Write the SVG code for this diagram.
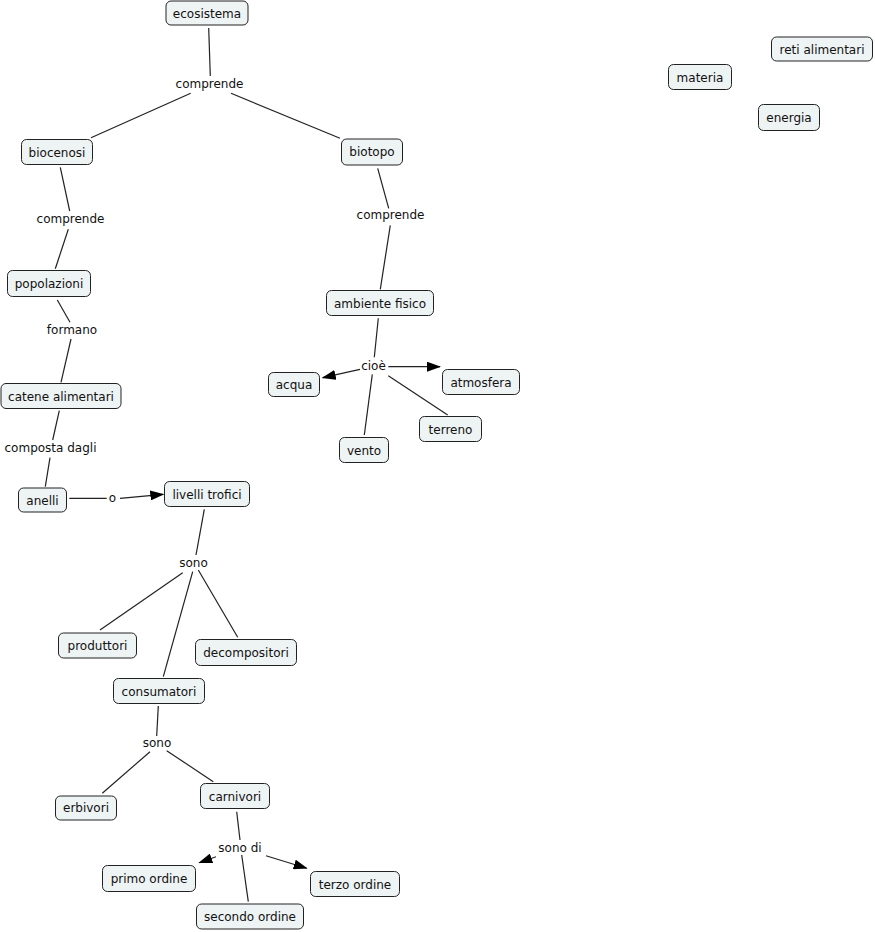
<svg xmlns="http://www.w3.org/2000/svg" width="875" height="932" viewBox="0 0 875 932">
<defs>
<style>
.n rect{fill:#eef3f4;stroke:#222;stroke-width:1;}
text{font-family:"DejaVu Sans","Liberation Sans",sans-serif;font-size:12px;fill:#111;text-anchor:middle;}
.c line{stroke:#222;stroke-width:1.2;}
</style>
<marker id="ar" markerWidth="14" markerHeight="10" refX="13" refY="5" orient="auto" markerUnits="userSpaceOnUse">
<path d="M0,0 L14,5 L0,10 z" fill="#000"/>
</marker>
</defs>
<rect width="875" height="932" fill="#fff"/>
<g class="c" id="connectors">
<line x1="208.7" y1="28" x2="210.3" y2="76"/>
<line x1="190.7" y1="93.3" x2="91" y2="137.7"/>
<line x1="231" y1="93.3" x2="340" y2="138.3"/>
<line x1="60.3" y1="167.3" x2="69.7" y2="211"/>
<line x1="68.3" y1="229.3" x2="55.3" y2="268.7"/>
<line x1="377.7" y1="168.3" x2="388.7" y2="208.3"/>
<line x1="390.3" y1="225.3" x2="380.3" y2="289.3"/>
<line x1="57.3" y1="300" x2="70" y2="322.3"/>
<line x1="71" y1="339" x2="61" y2="382.3"/>
<line x1="59.3" y1="410.7" x2="52.7" y2="440"/>
<line x1="50" y1="457.7" x2="45.3" y2="486.7"/>
<line x1="69.3" y1="498.3" x2="106.7" y2="498.3"/>
<line x1="120" y1="498.3" x2="163.3" y2="494.3" marker-end="url(#ar)"/>
<line x1="378.3" y1="318.3" x2="374.3" y2="357.3"/>
<line x1="360" y1="369.3" x2="322.7" y2="377.7" marker-end="url(#ar)"/>
<line x1="388.3" y1="366.7" x2="440" y2="366.7" marker-end="url(#ar)"/>
<line x1="372.3" y1="374.3" x2="364.3" y2="435"/>
<line x1="388.3" y1="375.7" x2="447.7" y2="415"/>
<line x1="204.3" y1="509.3" x2="196" y2="555"/>
<line x1="182.7" y1="572.7" x2="100" y2="630"/>
<line x1="192.7" y1="571.7" x2="163.3" y2="676.7"/>
<line x1="198.3" y1="570" x2="237.7" y2="637.3"/>
<line x1="158.3" y1="706" x2="156.7" y2="736"/>
<line x1="150" y1="751.7" x2="102.3" y2="793.3"/>
<line x1="166.7" y1="750.7" x2="213.3" y2="781.7"/>
<line x1="236.7" y1="811.7" x2="240" y2="840"/>
<line x1="216" y1="856.7" x2="199.3" y2="862.7" marker-end="url(#ar)"/>
<line x1="266" y1="855.7" x2="306.7" y2="868.3" marker-end="url(#ar)"/>
<line x1="241.7" y1="855" x2="248.3" y2="901.7"/>
</g>
<g id="link-labels">
<text x="209.5" y="87.5">comprende</text>
<text x="70.5" y="223">comprende</text>
<text x="390.5" y="219">comprende</text>
<text x="72" y="334">formano</text>
<text x="50.5" y="451.5">composta dagli</text>
<text x="112.5" y="502">o</text>
<text x="373.5" y="370">cioè</text>
<text x="193.5" y="567">sono</text>
<text x="157" y="747">sono</text>
<text x="240" y="852">sono di</text>
</g>
<g class="n" id="ecosistema"><rect x="166" y="1" width="82" height="24" rx="5"/><text x="207" y="17.5">ecosistema</text></g>
<g class="n" id="biocenosi"><rect x="21.5" y="139.5" width="71" height="25" rx="5"/><text x="57" y="156.5">biocenosi</text></g>
<g class="n" id="biotopo"><rect x="341.5" y="139" width="61" height="26" rx="5"/><text x="372" y="156">biotopo</text></g>
<g class="n" id="popolazioni"><rect x="7.5" y="270.5" width="83" height="26" rx="5"/><text x="49" y="288">popolazioni</text></g>
<g class="n" id="ambiente-fisico"><rect x="326.5" y="290.5" width="107" height="25" rx="5"/><text x="380" y="307.5">ambiente fisico</text></g>
<g class="n" id="catene-alimentari"><rect x="1" y="383.5" width="120" height="25" rx="5"/><text x="61" y="400.5">catene alimentari</text></g>
<g class="n" id="acqua"><rect x="268.5" y="372.5" width="51" height="24" rx="5"/><text x="294" y="388.5">acqua</text></g>
<g class="n" id="atmosfera"><rect x="442.5" y="369.5" width="77" height="25" rx="5"/><text x="481" y="386.5">atmosfera</text></g>
<g class="n" id="terreno"><rect x="419.5" y="416.5" width="62" height="25" rx="5"/><text x="450.5" y="433.5">terreno</text></g>
<g class="n" id="vento"><rect x="339.5" y="437.5" width="49" height="25" rx="5"/><text x="364" y="454.5">vento</text></g>
<g class="n" id="anelli"><rect x="18.5" y="488" width="48" height="24" rx="5"/><text x="42.5" y="504.5">anelli</text></g>
<g class="n" id="livelli-trofici"><rect x="164.5" y="481.5" width="85" height="25" rx="5"/><text x="207" y="498.5">livelli trofici</text></g>
<g class="n" id="produttori"><rect x="58.5" y="633" width="78" height="25" rx="5"/><text x="97.5" y="650">produttori</text></g>
<g class="n" id="decompositori"><rect x="195.5" y="639.5" width="101" height="26" rx="5"/><text x="246" y="657">decompositori</text></g>
<g class="n" id="consumatori"><rect x="113.5" y="678.5" width="91" height="25" rx="5"/><text x="159" y="695.5">consumatori</text></g>
<g class="n" id="erbivori"><rect x="55.5" y="796" width="61" height="24" rx="5"/><text x="86" y="812">erbivori</text></g>
<g class="n" id="carnivori"><rect x="200.5" y="783.5" width="69" height="25" rx="5"/><text x="235" y="800.5">carnivori</text></g>
<g class="n" id="primo-ordine"><rect x="102.5" y="865.5" width="93" height="26" rx="5"/><text x="149" y="883">primo ordine</text></g>
<g class="n" id="terzo-ordine"><rect x="310.5" y="871.5" width="89" height="25" rx="5"/><text x="355" y="888.5">terzo ordine</text></g>
<g class="n" id="secondo-ordine"><rect x="196.5" y="904" width="107" height="25" rx="5"/><text x="250" y="921">secondo ordine</text></g>
<g class="n" id="reti-alimentari"><rect x="771.5" y="37" width="101" height="24" rx="5"/><text x="822" y="53.5">reti alimentari</text></g>
<g class="n" id="materia"><rect x="668.5" y="64.5" width="63" height="25" rx="5"/><text x="700" y="81.5">materia</text></g>
<g class="n" id="energia"><rect x="758.5" y="104.5" width="61" height="26" rx="5"/><text x="789" y="122">energia</text></g>
</svg>
